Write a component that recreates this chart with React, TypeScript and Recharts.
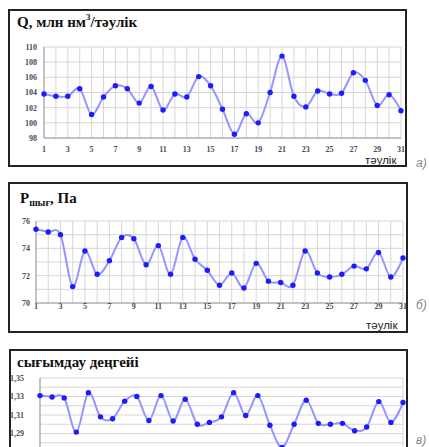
import React from 'react';
import { LineChart, Line, XAxis, YAxis, CartesianGrid } from 'recharts';

const days = [1, 2, 3, 4, 5, 6, 7, 8, 9, 10, 11, 12, 13, 14, 15, 16, 17, 18, 19, 20, 21, 22, 23, 24, 25, 26, 27, 28, 29, 30, 31];
const labeledDays = [1, 3, 5, 7, 9, 11, 13, 15, 17, 19, 21, 23, 25, 27, 29, 31];

const qValues = [103.8, 103.5, 103.5, 104.5, 101.1, 103.4, 104.9, 104.5, 102.6, 104.8, 101.7, 103.8, 103.4, 106.1, 104.9, 101.8, 98.5, 101.2, 100.0, 104.0, 108.8, 103.5, 102.1, 104.2, 103.8, 103.9, 106.6, 105.6, 102.3, 103.7, 101.6];
const pValues = [75.4, 75.2, 75.0, 71.2, 73.8, 72.1, 73.1, 74.8, 74.7, 72.8, 74.2, 72.1, 74.8, 73.2, 72.4, 71.3, 72.2, 71.1, 72.9, 71.6, 71.5, 71.3, 73.8, 72.2, 71.9, 72.1, 72.7, 72.5, 73.7, 71.9, 73.3];
const sValues = [1.331, 1.3295, 1.3285, 1.2915, 1.334, 1.308, 1.306, 1.325, 1.330, 1.304, 1.331, 1.3035, 1.327, 1.300, 1.302, 1.308, 1.334, 1.3095, 1.331, 1.299, 1.275, 1.300, 1.326, 1.301, 1.300, 1.301, 1.293, 1.297, 1.3245, 1.302, 1.3235];

const qTicks = [98, 100, 102, 104, 106, 108, 110];
const pTicks = [70, 71, 72, 73, 74, 75, 76];
const pLabels = [70, 72, 74, 76];
const sTicks = [1.27, 1.28, 1.29, 1.3, 1.31, 1.32, 1.33, 1.34, 1.35];
const sLabels = ['1,29', '1,31', '1,33', '1,35'];

const qData = days.map((d, i) => ({ day: d, v: qValues[i] }));
const pData = days.map((d, i) => ({ day: d, v: pValues[i] }));
const sData = days.map((d, i) => ({ day: d, v: sValues[i] }));

// Catmull-Rom-like cardinal curve (Excel smoothed line look)
const smoothCurve = (context: any) => {
  const k = 1 / 6;
  let x0 = NaN, y0 = NaN, x1 = NaN, y1 = NaN, x2 = NaN, y2 = NaN;
  let pt = 0;
  let line = NaN;
  const seg = (x: number, y: number) => {
    context.bezierCurveTo(
      x1 + k * (x2 - x0), y1 + k * (y2 - y0),
      x2 + k * (x1 - x), y2 + k * (y1 - y),
      x2, y2
    );
  };
  return {
    areaStart() { line = 0; },
    areaEnd() { line = NaN; },
    lineStart() { x0 = x1 = x2 = y0 = y1 = y2 = NaN; pt = 0; },
    lineEnd() {
      if (pt === 2) context.lineTo(x2, y2);
      else if (pt === 3) seg(x1, y1);
      if (line || (line !== 0 && pt === 1)) context.closePath();
      line = 1 - line;
    },
    point(x: number, y: number) {
      x = +x; y = +y;
      if (pt === 0) { pt = 1; line ? context.lineTo(x, y) : context.moveTo(x, y); }
      else if (pt === 1) { pt = 2; x1 = x; y1 = y; }
      else { pt = 3; seg(x, y); }
      x0 = x1; x1 = x2; x2 = x;
      y0 = y1; y1 = y2; y2 = y;
    },
  };
};

const tickStyle = { fontSize: 8, fill: '#4a4a5a', fontFamily: '"Liberation Serif", serif', fontWeight: 700 };
const xFormat = (v: number) => (labeledDays.includes(v) ? String(v) : '');

type PanelProps = {
  data: { day: number; v: number }[];
  top: number;
  height: number;
  margin: { top: number; right: number; bottom: number; left: number };
  yDomain: [number, number];
  yTicks: number[];
  yFormat: (v: number) => string;
  yTickMargin: number;
  xTickMargin: number;
  showXLabels: boolean;
};

function Panel(p: PanelProps) {
  return (
    <div style={{ position: 'absolute', left: 0, top: p.top }}>
      <LineChart width={429} height={p.height} data={p.data} margin={p.margin}>
        <CartesianGrid stroke="#d6d6d6" strokeWidth={1} />
        <XAxis
          dataKey="day"
          type="number"
          domain={[1, 31]}
          ticks={days}
          interval={0}
          tickFormatter={xFormat}
          tick={p.showXLabels ? tickStyle : false}
          tickLine={false}
          tickSize={0}
          tickMargin={p.xTickMargin}
          axisLine={{ stroke: '#9a9a9a' }}
          height={20}
        />
        <YAxis
          type="number"
          domain={p.yDomain}
          ticks={p.yTicks}
          interval={0}
          tickFormatter={p.yFormat}
          tick={tickStyle}
          tickLine={false}
          tickSize={0}
          tickMargin={p.yTickMargin}
          axisLine={{ stroke: '#9a9a9a' }}
          width={30}
          allowDataOverflow
        />
        <Line
          dataKey="v"
          type={smoothCurve as any}
          stroke="#9595ff"
          strokeWidth={2}
          dot={{ r: 2.7, fill: '#1c1cff', stroke: 'none' }}
          activeDot={false}
          isAnimationActive={false}
        />
      </LineChart>
    </div>
  );
}

const frame = (left: number, top: number, width: number, height: number) => ({
  position: 'absolute' as const,
  left,
  top,
  width,
  height,
  boxSizing: 'border-box' as const,
  border: '2px solid #222',
  background: 'white',
});

const titleStyle = {
  position: 'absolute' as const,
  fontFamily: '"Liberation Serif", serif',
  fontWeight: 700,
  fontSize: 15,
  lineHeight: '15px',
  color: '#111',
  whiteSpace: 'nowrap' as const,
};

const unitStyle = {
  position: 'absolute' as const,
  fontFamily: '"Liberation Sans", Arial, sans-serif',
  fontSize: 11.5,
  lineHeight: '10px',
  color: '#222',
  padding: '0 1px',
};

const tagStyle = {
  position: 'absolute' as const,
  fontFamily: '"Liberation Sans", Arial, sans-serif',
  fontStyle: 'italic' as const,
  fontSize: 12,
  lineHeight: '12px',
  color: '#8a8a8a',
};

export default function App() {
  return (
    <div style={{ position: 'absolute', left: 0, top: 0, width: 429, height: 447, overflow: 'hidden', background: 'white' }}>
      {/* panel a */}
      <div style={frame(8, 9, 399, 158)} />
      <Panel
        data={qData}
        top={0}
        height={170}
        margin={{ top: 47, right: 28, bottom: 12, left: 14 }}
        yDomain={[98, 110]}
        yTicks={qTicks}
        yFormat={(v: number) => String(v)}
        yTickMargin={7}
        xTickMargin={8}
        showXLabels={true}
      />
      <div style={{ ...titleStyle, left: 17, top: 15 }}>
        Q, млн нм<sup style={{ fontSize: 9, verticalAlign: 'top', lineHeight: '9px', position: 'relative', top: -2 }}>3</sup>/тәулік
      </div>
      <div style={{ ...unitStyle, left: 364, top: 155 }}>тәулік</div>
      <div style={{ ...tagStyle, left: 416, top: 157 }}>а)</div>

      {/* panel b */}
      <div style={frame(8, 182, 400, 151)} />
      <Panel
        data={pData}
        top={170}
        height={170}
        margin={{ top: 51, right: 26, bottom: 17, left: 6 }}
        yDomain={[70, 76]}
        yTicks={pTicks}
        yFormat={(v: number) => (pLabels.includes(v) ? String(v) : '')}
        yTickMargin={6}
        xTickMargin={0}
        showXLabels={true}
      />
      <div style={{ ...titleStyle, left: 20, top: 191 }}>
        P<span style={{ fontSize: 10, position: 'relative', top: 3 }}>шығ</span>, Па
      </div>
      <div style={{ ...unitStyle, left: 365, top: 320 }}>тәулік</div>
      <div style={{ ...tagStyle, left: 416, top: 299 }}>б)</div>

      {/* panel c */}
      <div style={frame(9, 349, 399, 120)} />
      <Panel
        data={sData}
        top={340}
        height={140}
        margin={{ top: 38, right: 26, bottom: 8, left: 10 }}
        yDomain={[1.27, 1.35]}
        yTicks={sTicks}
        yFormat={(v: number) => {
          const s = v.toFixed(2).replace('.', ',');
          return sLabels.includes(s) ? s : '';
        }}
        yTickMargin={16}
        xTickMargin={0}
        showXLabels={false}
      />
      <div style={{ ...titleStyle, left: 17, top: 355 }}>сығымдау деңгейі</div>
      <div style={{ ...tagStyle, left: 416, top: 434 }}>в)</div>
    </div>
  );
}
